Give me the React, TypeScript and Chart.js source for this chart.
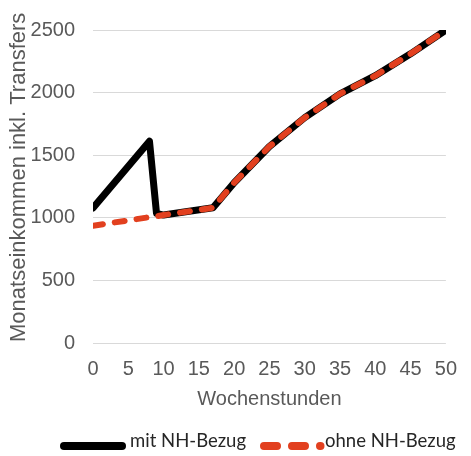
import React, { useEffect, useRef } from "react";
import { Chart, registerables } from "chart.js";

Chart.register(...registerables);

// ---- data ----
const hours = [0, 8, 9, 10, 17, 20, 25, 30, 35, 40, 45, 50];
const incomeWithNH = [1078, 1612, 1035, 1022, 1080, 1280, 1570, 1800, 1990, 2135, 2310, 2500];
const incomeWithoutNH = [937, 1005, 1012, 1022, 1080, 1280, 1570, 1800, 1990, 2135, 2310, 2500];
const seriesNames = ["mit NH-Bezug", "ohne NH-Bezug"];
const xAxisTitle = "Wochenstunden";
const yAxisTitle = "Monatseinkommen inkl. Transfers";
const xTickValues = [0, 5, 10, 15, 20, 25, 30, 35, 40, 45, 50];
const yTickValues = [0, 500, 1000, 1500, 2000, 2500];

const COLORS = { with: "#000000", without: "#E2401F", text: "#595959", legendText: "#262626", grid: "#D9D9D9" };
const FONT = "'Liberation Sans', Arial, sans-serif";

const legendPlugin = {
  id: "customLegend",
  afterDraw(chart: any) {
    const ctx = chart.ctx as CanvasRenderingContext2D;
    const items = [
      { ds: chart.data.datasets[0], from: 64, to: 122, textX: 130, width: 8 },
      { ds: chart.data.datasets[1], from: 264, to: 320.5, textX: 325, width: 8 },
    ];
    const lineY = 446;
    ctx.save();
    items.forEach((it) => {
      ctx.beginPath();
      ctx.lineWidth = it.width;
      ctx.lineCap = "round";
      ctx.strokeStyle = it.ds.borderColor;
      ctx.setLineDash(it.ds.borderDash && it.ds.borderDash.length ? [13, 15] : []);
      ctx.moveTo(it.from, lineY);
      ctx.lineTo(it.to, lineY);
      ctx.stroke();
      ctx.setLineDash([]);
      ctx.fillStyle = COLORS.legendText;
      ctx.font = "18.5px Lato, 'Open Sans', sans-serif";
      ctx.textBaseline = "alphabetic";
      ctx.textAlign = "left";
      ctx.fillText(it.ds.label, it.textX, 447);
    });
    ctx.restore();
  },
};

export default function App() {
  const canvasRef = useRef<HTMLCanvasElement | null>(null);

  useEffect(() => {
    if (!canvasRef.current) return;
    const chart = new Chart(canvasRef.current, {
      type: "line",
      data: {
        datasets: [
          {
            label: seriesNames[0],
            data: hours.map((h, i) => ({ x: h, y: incomeWithNH[i] })),
            borderColor: COLORS.with,
            backgroundColor: COLORS.with,
            borderWidth: 7,
            borderJoinStyle: "round",
            borderCapStyle: "round",
            pointRadius: 0,
            tension: 0,
            order: 2,
          },
          {
            label: seriesNames[1],
            data: hours.map((h, i) => ({ x: h, y: incomeWithoutNH[i] })),
            borderColor: COLORS.without,
            backgroundColor: COLORS.without,
            borderWidth: 6,
            borderDash: [10, 12],
            borderJoinStyle: "round",
            borderCapStyle: "round",
            pointRadius: 0,
            tension: 0,
            order: 1,
          },
        ],
      },
      options: {
        responsive: false,
        animation: false,
        layout: { padding: { top: 18, left: 0, right: 12, bottom: 32 } },
        plugins: { legend: { display: false }, tooltip: { enabled: false } },
        scales: {
          x: {
            type: "linear",
            min: 0,
            max: 50,
            afterFit: (s: any) => { s.height = 81; },
            afterBuildTicks: (s: any) => { s.ticks = xTickValues.map((v) => ({ value: v })); },
            grid: { display: false, drawTicks: false },
            border: { display: false },
            ticks: { color: COLORS.text, font: { family: FONT, size: 20 }, padding: 14, maxRotation: 0, autoSkip: false, callback: (v: any) => String(v) },
            title: { display: true, text: xAxisTitle, color: COLORS.text, font: { family: FONT, size: 20 }, padding: { top: 0, bottom: 13 } },
          },
          y: {
            type: "linear",
            min: 0,
            max: 2500,
            afterFit: (s: any) => { s.width = 93; },
            afterBuildTicks: (s: any) => { s.ticks = yTickValues.map((v) => ({ value: v })); },
            grid: { color: COLORS.grid, lineWidth: 1, drawTicks: false },
            border: { display: false },
            ticks: { color: COLORS.text, font: { family: FONT, size: 20 }, padding: 18, callback: (v: any) => String(v) },
            title: { display: true, text: "   " + yAxisTitle, color: COLORS.text, font: { family: FONT, size: 22 }, padding: { top: 6, bottom: 0 } },
          },
        },
      },
      plugins: [legendPlugin],
    } as any);
    return () => chart.destroy();
  }, []);

  return (
    <div style={{ position: "absolute", left: 0, top: 0, width: 471, height: 456, background: "#fff" }}>
      <canvas ref={canvasRef} width={471} height={456} style={{ display: "block" }} />
    </div>
  );
}
